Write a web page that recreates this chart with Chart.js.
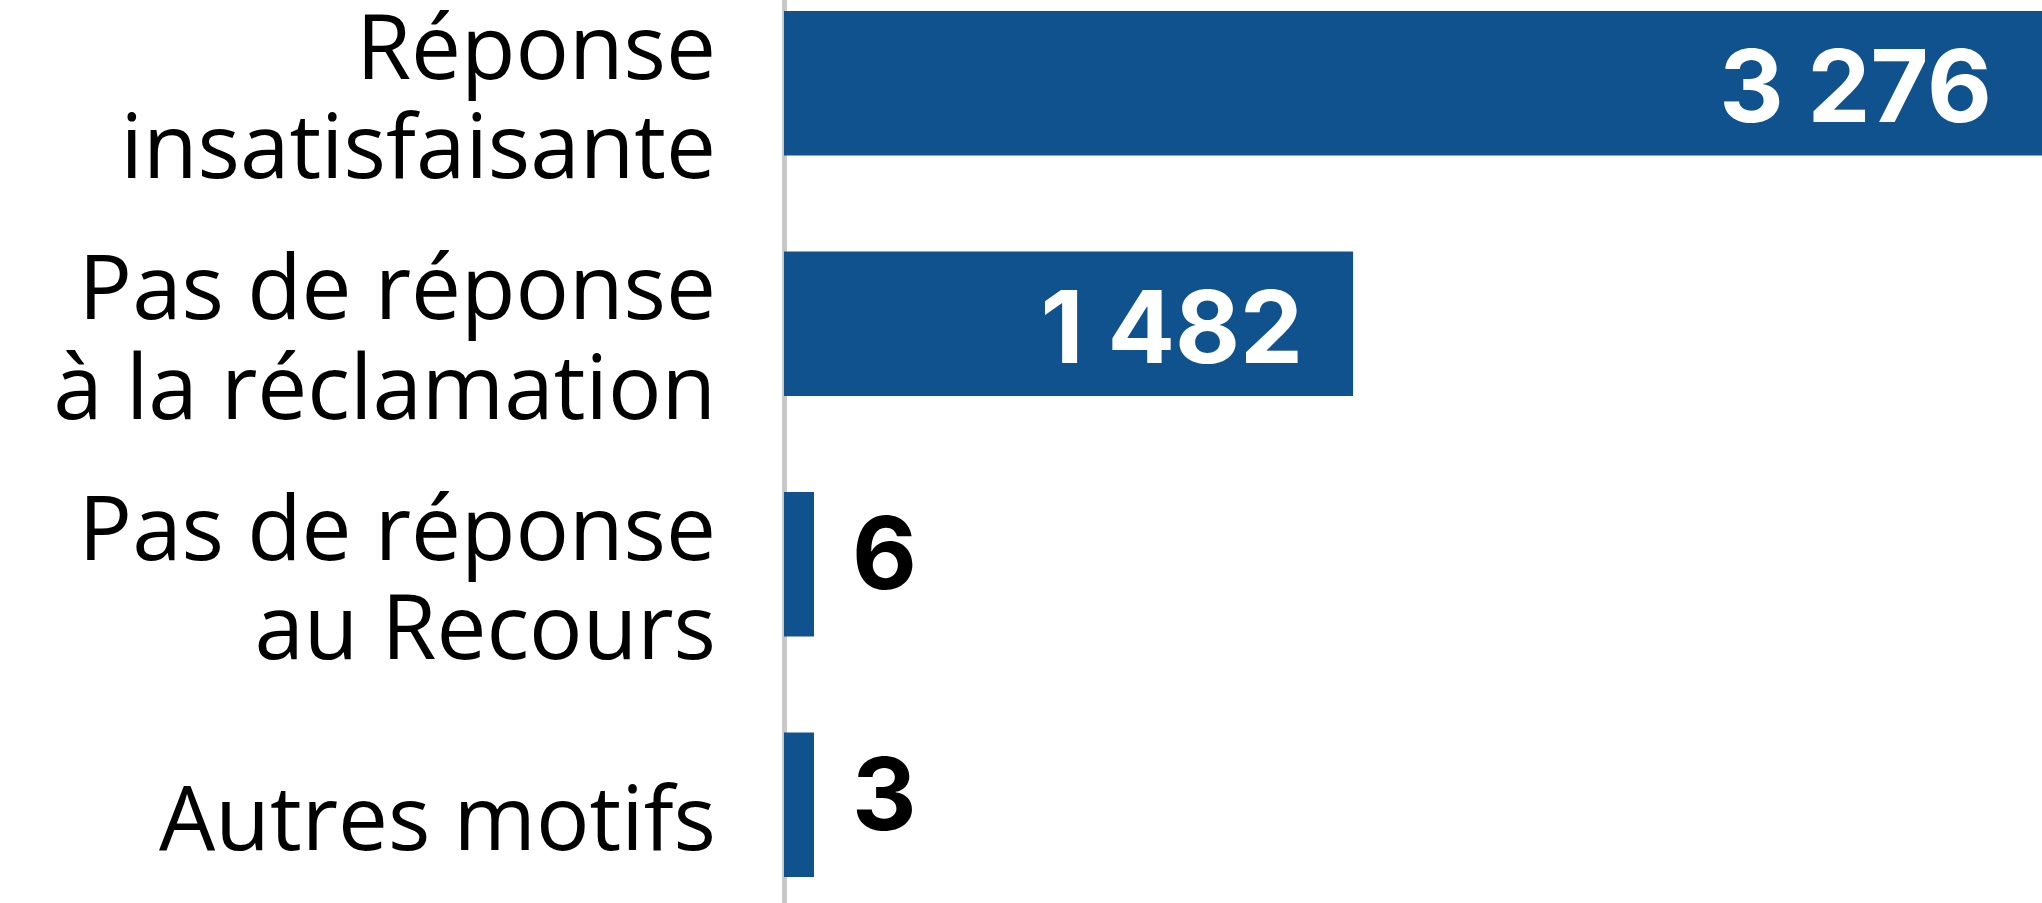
<!DOCTYPE html>
<html lang="fr">
<head>
<meta charset="utf-8">
<title>Motifs des saisines</title>
<script src="https://cdn.jsdelivr.net/npm/chart.js@4.4.1/dist/chart.umd.min.js"></script>
<style>
  html, body { margin: 0; padding: 0; background: #fff; overflow: hidden; }
  /* chart area is taller than the window, the top and bottom slots are cut like in the original */
  #wrap { position: absolute; left: 0; top: -37px; width: 2042px; height: 962px; }
</style>
</head>
<body>
<div id="wrap"><canvas id="myChart" width="2042" height="962"></canvas></div>
<script>
const categories = [
  ["Réponse", "insatisfaisante"],
  ["Pas de réponse", "à la réclamation"],
  ["Pas de réponse", "au Recours"],
  ["Autres motifs"],
];
const values = [3276, 1482, 6, 3];

const barColor = "#10528e";

// "3276" -> "3 276"
const fmt = (v) => String(v).replace(/\B(?=(\d{3})+(?!\d))/g, " ");

const valueLabels = {
  id: "valueLabels",
  afterDatasetsDraw(chart) {
    const ctx = chart.ctx;
    const meta = chart.getDatasetMeta(0);
    ctx.save();
    ctx.font = "700 100px Inter, 'Open Sans', sans-serif";
    ctx.textBaseline = "alphabetic";
    meta.data.forEach((bar, i) => {
      const text = fmt(values[i]);
      const len = Math.abs(bar.x - bar.base);
      if (len > 300) {
        ctx.fillStyle = "#fff";
        ctx.textAlign = "right";
        ctx.fillText(text, bar.x - 50, bar.y + 39);
      } else {
        ctx.fillStyle = "#000";
        ctx.textAlign = "left";
        ctx.fillText(text, bar.x + 38, bar.y + 25);
      }
    });
    ctx.restore();
  },
};

const ctx = document.getElementById("myChart").getContext("2d");

new Chart(ctx, {
  type: "bar",
  data: {
    labels: categories,
    datasets: [
      {
        data: values,
        backgroundColor: barColor,
        borderWidth: 0,
        categoryPercentage: 1,
        barPercentage: 0.6,
        minBarLength: 30,
      },
    ],
  },
  options: {
    indexAxis: "y",
    responsive: false,
    animation: false,
    layout: { padding: 0 },
    plugins: {
      legend: { display: false },
      tooltip: { enabled: false },
    },
    scales: {
      x: { display: false, min: 0, max: 3276 },
      y: {
        offset: true,
        grid: { display: false, drawTicks: false },
        border: { display: true, color: "#c8c8c8", width: 5 },
        ticks: {
          color: "#000",
          padding: 68,
          labelOffset: 20,
          font: { family: "'Open Sans', sans-serif", size: 89, lineHeight: 1.12 },
        },
        afterFit: (scale) => {
          scale.width = 784;
          // labels may run past the ends, keep the full height for the bars
          scale.paddingTop = 0;
          scale.paddingBottom = 0;
        },
      },
    },
  },
  plugins: [valueLabels],
});
</script>
</body>
</html>
